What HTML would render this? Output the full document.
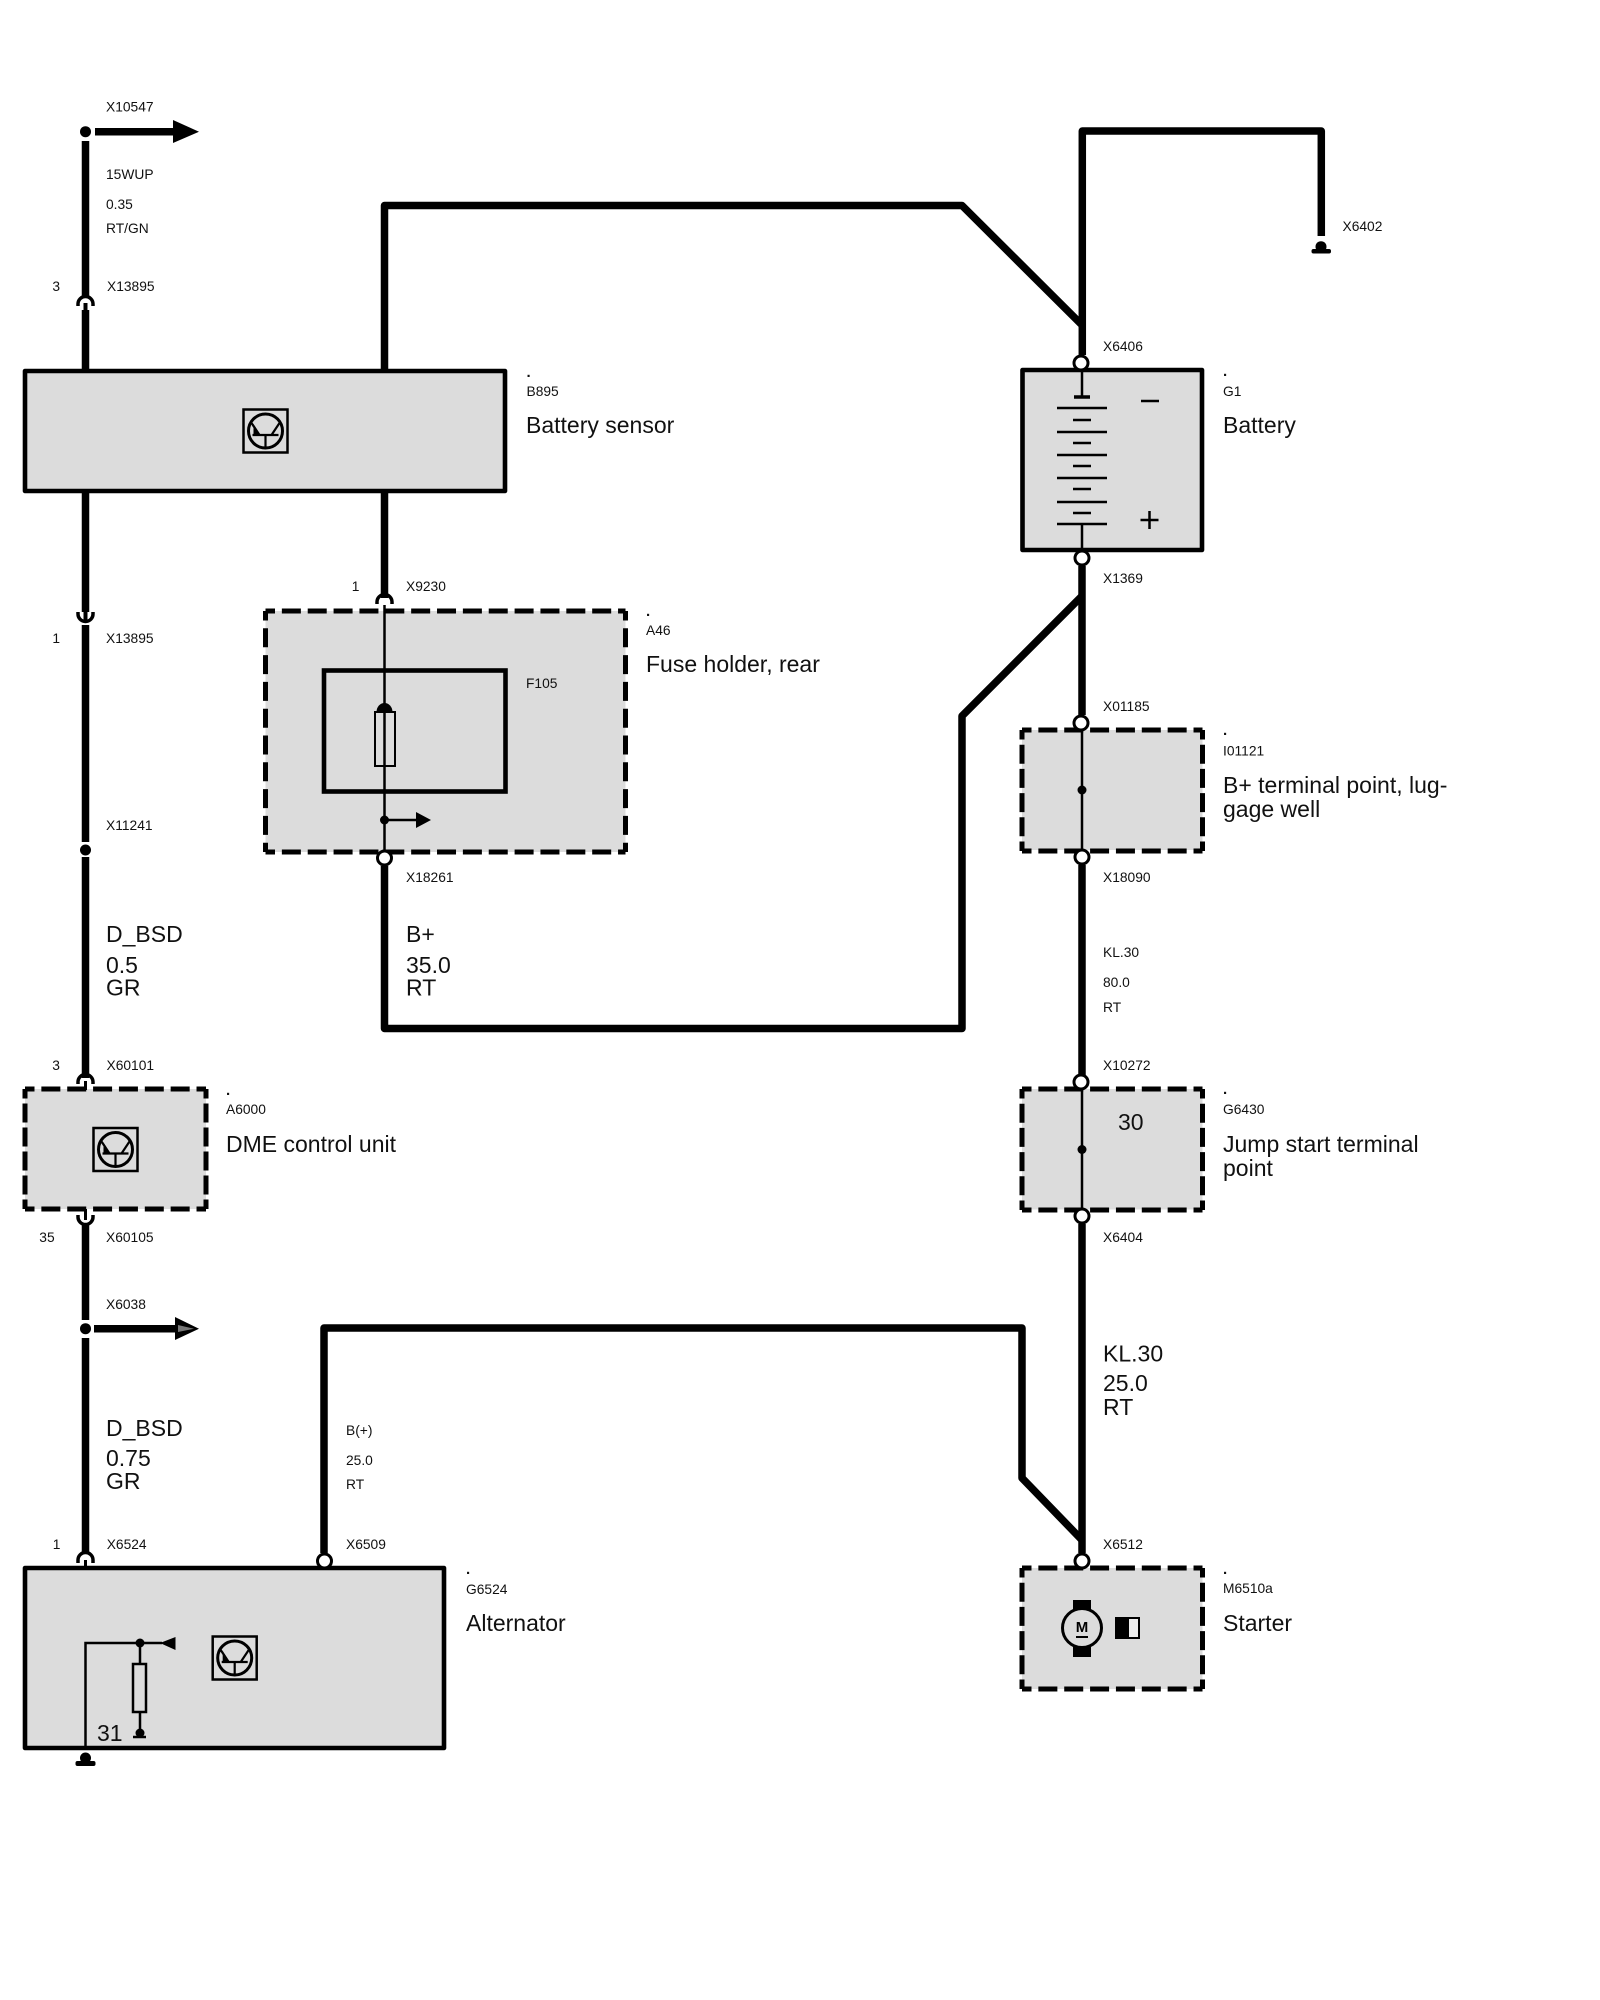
<!DOCTYPE html>
<html>
<head>
<meta charset="utf-8">
<style>
html,body{margin:0;padding:0;background:#fff;}
svg{display:block;}
text{font-family:"Liberation Sans",Arial,sans-serif;fill:#111;}
.s{font-size:13.8px;}
.l{font-size:23px;}
.p{font-size:15px;font-weight:bold;}
.w{fill:none;stroke:#000;stroke-width:7.5;stroke-linejoin:round;}
.t{fill:none;stroke:#000;stroke-width:2.5;}
.d{stroke:#000;stroke-width:5;stroke-dasharray:19 6.86;stroke-dashoffset:9.5;}
.c{fill:#fff;stroke:#000;stroke-width:3;}
.a{fill:none;stroke:#000;stroke-width:3.5;}
</style>
</head>
<body>
<svg xmlns="http://www.w3.org/2000/svg" width="1600" height="2000" viewBox="0 0 1600 2000">
<defs>
<g id="tr">
<rect x="-22" y="-21.5" width="44" height="43" fill="none" stroke="#000" stroke-width="2.5"/>
<circle cx="0" cy="0" r="17" fill="none" stroke="#000" stroke-width="3"/>
<path d="M-13 4H13M0 4V17M-14 -8L-6 4M14 -8L6 4" fill="none" stroke="#000" stroke-width="2.2"/>
<path d="M-12 -7L-5 4L-12 3Z" fill="#000"/>
</g>
</defs>

<!-- boxes -->
<rect x="25" y="371" width="480" height="120" fill="#dcdcdc" stroke="#000" stroke-width="4.6" stroke-linejoin="round"/>
<rect x="1022.5" y="370" width="179.5" height="180" fill="#dcdcdc" stroke="#000" stroke-width="4.6" stroke-linejoin="round"/>
<rect x="25" y="1568" width="419" height="180" fill="#dcdcdc" stroke="#000" stroke-width="4.6" stroke-linejoin="round"/>

<rect x="265.5" y="611" width="360" height="241" fill="#dcdcdc"/>
<line class="d" x1="265.5" y1="611" x2="625.5" y2="611"/>
<line class="d" x1="265.5" y1="852" x2="625.5" y2="852"/>
<line class="d" x1="265.5" y1="611" x2="265.5" y2="852" style="stroke-dasharray:19 7.8"/>
<line class="d" x1="625.5" y1="611" x2="625.5" y2="852" style="stroke-dasharray:19 7.8"/>

<rect x="25" y="1089" width="181" height="120" fill="#dcdcdc"/>
<line class="d" x1="25" y1="1089" x2="206" y2="1089"/>
<line class="d" x1="25" y1="1209" x2="206" y2="1209"/>
<line class="d" x1="25" y1="1089" x2="25" y2="1209" style="stroke-dasharray:19 5"/>
<line class="d" x1="206" y1="1089" x2="206" y2="1209" style="stroke-dasharray:19 5"/>

<rect x="1022" y="730" width="180.5" height="120" fill="#dcdcdc"/>
<line class="d" x1="1022" y1="730" x2="1202.5" y2="730"/>
<line class="d" x1="1022" y1="851" x2="1202.5" y2="851"/>
<line class="d" x1="1022" y1="730" x2="1022" y2="851" style="stroke-dasharray:19 5.2"/>
<line class="d" x1="1202.5" y1="730" x2="1202.5" y2="851" style="stroke-dasharray:19 5.2"/>

<rect x="1022" y="1089" width="180.5" height="120.5" fill="#dcdcdc"/>
<line class="d" x1="1022" y1="1089" x2="1202.5" y2="1089"/>
<line class="d" x1="1022" y1="1210" x2="1202.5" y2="1210"/>
<line class="d" x1="1022" y1="1089" x2="1022" y2="1210" style="stroke-dasharray:19 5.2"/>
<line class="d" x1="1202.5" y1="1089" x2="1202.5" y2="1210" style="stroke-dasharray:19 5.2"/>

<rect x="1022" y="1568" width="180.5" height="121" fill="#dcdcdc"/>
<line class="d" x1="1022" y1="1568" x2="1202.5" y2="1568"/>
<line class="d" x1="1022" y1="1689" x2="1202.5" y2="1689"/>
<line class="d" x1="1022" y1="1568" x2="1022" y2="1689" style="stroke-dasharray:19 5.2"/>
<line class="d" x1="1202.5" y1="1568" x2="1202.5" y2="1689" style="stroke-dasharray:19 5.2"/>

<!-- inner A46 -->
<rect x="324" y="670.5" width="181.5" height="121" fill="none" stroke="#000" stroke-width="4.6"/>

<!-- thick wires -->
<path class="w" d="M85.5 141V297"/>
<path class="w" d="M95 131.7H175"/>
<path d="M173 120L199 131.7L173 143Z" fill="#000"/>
<path class="w" d="M85.5 310V373"/>
<path class="w" d="M384.5 373V205.5H962L1082 325"/>
<path class="w" d="M1082.3 355V131H1321.3V236"/>
<path class="w" d="M85.5 489V612"/>
<path class="w" d="M85.5 625V842M85.5 857V1078"/>
<path class="w" d="M384.5 489V598"/>
<path class="w" d="M384.5 866V1028.5H962V716L1082 596"/>
<path class="w" d="M1082 566V715"/>
<path class="w" d="M1082 865V1075"/>
<path class="w" d="M1082 1224V1553"/>
<path class="w" d="M85.5 1223V1320M85.5 1338V1554"/>
<path class="w" d="M94 1328.7H176"/>
<path d="M175 1317L199 1328.7L175 1340Z" fill="#000"/>
<path d="M178 1325L194 1328.7L178 1332Z" fill="#777"/>
<path class="w" d="M324 1553V1328H1022V1478L1082 1540"/>

<!-- connector dots -->
<circle cx="85.5" cy="131.7" r="5.5" fill="#000"/>
<circle cx="85.5" cy="850" r="5.5" fill="#000"/>
<circle cx="85.5" cy="1328.7" r="5.5" fill="#000"/>

<!-- fork connectors -->
<path class="a" d="M78 306v-2a7.5 7.5 0 0 1 15 0v2"/><path d="M85.5 303V311" stroke="#000" stroke-width="4"/>
<path class="a" d="M78 612v2a7.5 7.5 0 0 0 15 0v-2"/><path d="M85.5 610V621" stroke="#000" stroke-width="4"/>
<path class="a" d="M78 1084v-2a7.5 7.5 0 0 1 15 0v2"/><path d="M85.5 1081V1090" stroke="#000" stroke-width="3"/>
<path class="a" d="M78 1215v2a7.5 7.5 0 0 0 15 0v-2"/><path d="M85.5 1209V1220" stroke="#000" stroke-width="3"/>
<path class="a" d="M78 1563v-3a7.5 7.5 0 0 1 15 0v3"/><path d="M85.5 1560V1568" stroke="#000" stroke-width="3"/>
<path class="a" d="M377 604v-2a7.5 7.5 0 0 1 15 0v2"/>

<!-- thin lines -->
<path class="t" d="M1082 370V397M1082 524V550"/>
<path class="t" d="M384.5 605V852"/>
<path class="t" d="M1082 730V851M1082 1089V1210"/>

<!-- white circles -->
<circle class="c" cx="1081" cy="363" r="7"/>
<circle class="c" cx="1082" cy="558" r="7"/>
<circle class="c" cx="384.5" cy="858" r="7"/>
<circle class="c" cx="1081" cy="723" r="7"/>
<circle class="c" cx="1082" cy="857" r="7"/>
<circle class="c" cx="1081" cy="1082" r="7"/>
<circle class="c" cx="1082" cy="1216" r="7"/>
<circle class="c" cx="1082" cy="1561" r="7"/>
<circle class="c" cx="324.5" cy="1561" r="7"/>

<!-- ground X6402 -->
<circle cx="1321" cy="246.7" r="5.5" fill="#000"/>
<rect x="1311.5" y="249" width="19.5" height="4.5" rx="2" fill="#000"/>
<!-- ground alternator -->
<circle cx="85.5" cy="1758" r="5.5" fill="#000"/>
<rect x="75.5" y="1761" width="20" height="5" rx="2" fill="#000"/>

<!-- transistor icons -->
<use href="#tr" x="265.5" y="431"/>
<use href="#tr" x="115.5" y="1149.5"/>
<use href="#tr" x="234.7" y="1658"/>

<!-- battery cells -->
<path d="M1074 397H1090" stroke="#000" stroke-width="3.5"/>
<path d="M1057 408H1107M1057 432H1107M1057 455H1107M1057 478H1107M1057 502H1107M1057 524H1107" stroke="#000" stroke-width="2.5"/>
<path d="M1073 420H1091M1073 443H1091M1073 466H1091M1073 489H1091M1073 513H1091" stroke="#000" stroke-width="2.5"/>
<path d="M1141 401H1159" stroke="#000" stroke-width="2.5"/>
<path d="M1140.5 520H1158.5M1149.5 511V529" stroke="#000" stroke-width="2.5"/>

<!-- fuse -->
<path d="M376.5 712a8 9 0 0 1 16 0Z" fill="#000"/>
<rect x="375" y="712" width="20" height="54" fill="none" stroke="#000" stroke-width="2"/>
<circle cx="384.5" cy="820" r="4.5" fill="#000"/>
<path d="M384.5 820H418" stroke="#000" stroke-width="2.5"/>
<path d="M416 812L431 820L416 828Z" fill="#000"/>

<!-- terminal dots -->
<circle cx="1082" cy="790" r="4.5" fill="#000"/>
<circle cx="1082" cy="1149.5" r="4.5" fill="#000"/>

<!-- alternator inner -->
<path class="t" d="M85.5 1748V1643H162M140 1643V1664M140 1712V1733"/>
<circle cx="140" cy="1643" r="4.5" fill="#000"/>
<path d="M160 1643L175.5 1637V1650Z" fill="#000"/>
<rect x="133" y="1664" width="13" height="48" fill="none" stroke="#000" stroke-width="2.5"/>
<circle cx="140" cy="1733" r="4.5" fill="#000"/>
<path d="M133 1737H146" stroke="#000" stroke-width="2.5"/>

<!-- starter motor -->
<circle cx="1082" cy="1628" r="19.5" fill="none" stroke="#000" stroke-width="3"/>
<rect x="1073" y="1600" width="18" height="10" fill="#000"/>
<rect x="1073" y="1647" width="18" height="10" fill="#000"/>
<text x="1082" y="1632" font-size="15" font-weight="bold" text-anchor="middle" style="fill:#000">M</text>
<path d="M1076 1637H1088" stroke="#000" stroke-width="2"/>
<rect x="1115" y="1617" width="13" height="22" fill="#000"/>
<rect x="1128" y="1618" width="11" height="20" fill="#eee" stroke="#000" stroke-width="2"/>

<!-- labels small -->
<text class="s" x="106" y="111.5">X10547</text>
<text class="s" x="106" y="179">15WUP</text>
<text class="s" x="106" y="209">0.35</text>
<text class="s" x="106" y="233">RT/GN</text>
<text class="s" x="52.4" y="291">3</text>
<text class="s" x="107" y="291">X13895</text>
<text class="p" x="526.5" y="377">.</text>
<text class="s" x="526.5" y="396">B895</text>
<text class="l" x="526" y="433">Battery sensor</text>
<text class="p" x="1223" y="376">.</text>
<text class="s" x="1223" y="396">G1</text>
<text class="l" x="1223" y="433">Battery</text>
<text class="s" x="1103" y="351">X6406</text>
<text class="s" x="1103" y="583">X1369</text>
<text class="s" x="1342.5" y="231">X6402</text>
<text class="s" x="351.7" y="591">1</text>
<text class="s" x="406" y="591">X9230</text>
<text class="s" x="406" y="882">X18261</text>
<text class="s" x="526" y="688">F105</text>
<text class="p" x="646" y="616">.</text>
<text class="s" x="646" y="635">A46</text>
<text class="l" x="646" y="672">Fuse holder, rear</text>
<text class="s" x="52.4" y="643">1</text>
<text class="s" x="106" y="643">X13895</text>
<text class="s" x="106" y="830">X11241</text>
<text class="l" x="106" y="942">D_BSD</text>
<text class="l" x="106" y="973">0.5</text>
<text class="l" x="106" y="995.5">GR</text>
<text class="l" x="406" y="942">B+</text>
<text class="l" x="406" y="973">35.0</text>
<text class="l" x="406" y="995.5">RT</text>
<text class="s" x="52.3" y="1070">3</text>
<text class="s" x="106.5" y="1070">X60101</text>
<text class="p" x="226" y="1095">.</text>
<text class="s" x="226" y="1114">A6000</text>
<text class="l" x="226" y="1152">DME control unit</text>
<text class="s" x="39.3" y="1242">35</text>
<text class="s" x="106" y="1242">X60105</text>
<text class="s" x="106" y="1309">X6038</text>
<text class="l" x="106" y="1436">D_BSD</text>
<text class="l" x="106" y="1466">0.75</text>
<text class="l" x="106" y="1489">GR</text>
<text class="s" x="346" y="1435">B(+)</text>
<text class="s" x="346" y="1465">25.0</text>
<text class="s" x="346" y="1489">RT</text>
<text class="s" x="52.7" y="1549">1</text>
<text class="s" x="106.7" y="1549">X6524</text>
<text class="s" x="346" y="1549">X6509</text>
<text class="p" x="466" y="1574">.</text>
<text class="s" x="466" y="1594">G6524</text>
<text class="l" x="466" y="1631">Alternator</text>
<text class="l" x="97" y="1741">31</text>
<text class="s" x="1103" y="1549">X6512</text>
<text class="p" x="1223" y="1574">.</text>
<text class="s" x="1223" y="1593">M6510a</text>
<text class="l" x="1223" y="1631">Starter</text>
<text class="s" x="1103" y="711">X01185</text>
<text class="p" x="1223" y="735">.</text>
<text class="s" x="1223" y="755.5">I01121</text>
<text class="l" x="1223" y="793">B+ terminal point, lug-</text>
<text class="l" x="1223" y="817">gage well</text>
<text class="s" x="1103" y="882">X18090</text>
<text class="s" x="1103" y="957">KL.30</text>
<text class="s" x="1103" y="987">80.0</text>
<text class="s" x="1103" y="1012">RT</text>
<text class="s" x="1103" y="1070">X10272</text>
<text class="p" x="1223" y="1094">.</text>
<text class="s" x="1223" y="1114">G6430</text>
<text class="l" x="1118" y="1130">30</text>
<text class="l" x="1223" y="1152">Jump start terminal</text>
<text class="l" x="1223" y="1176">point</text>
<text class="s" x="1103" y="1242">X6404</text>
<text class="l" x="1103" y="1361.5">KL.30</text>
<text class="l" x="1103" y="1391">25.0</text>
<text class="l" x="1103" y="1415">RT</text>
</svg>
</body>
</html>
